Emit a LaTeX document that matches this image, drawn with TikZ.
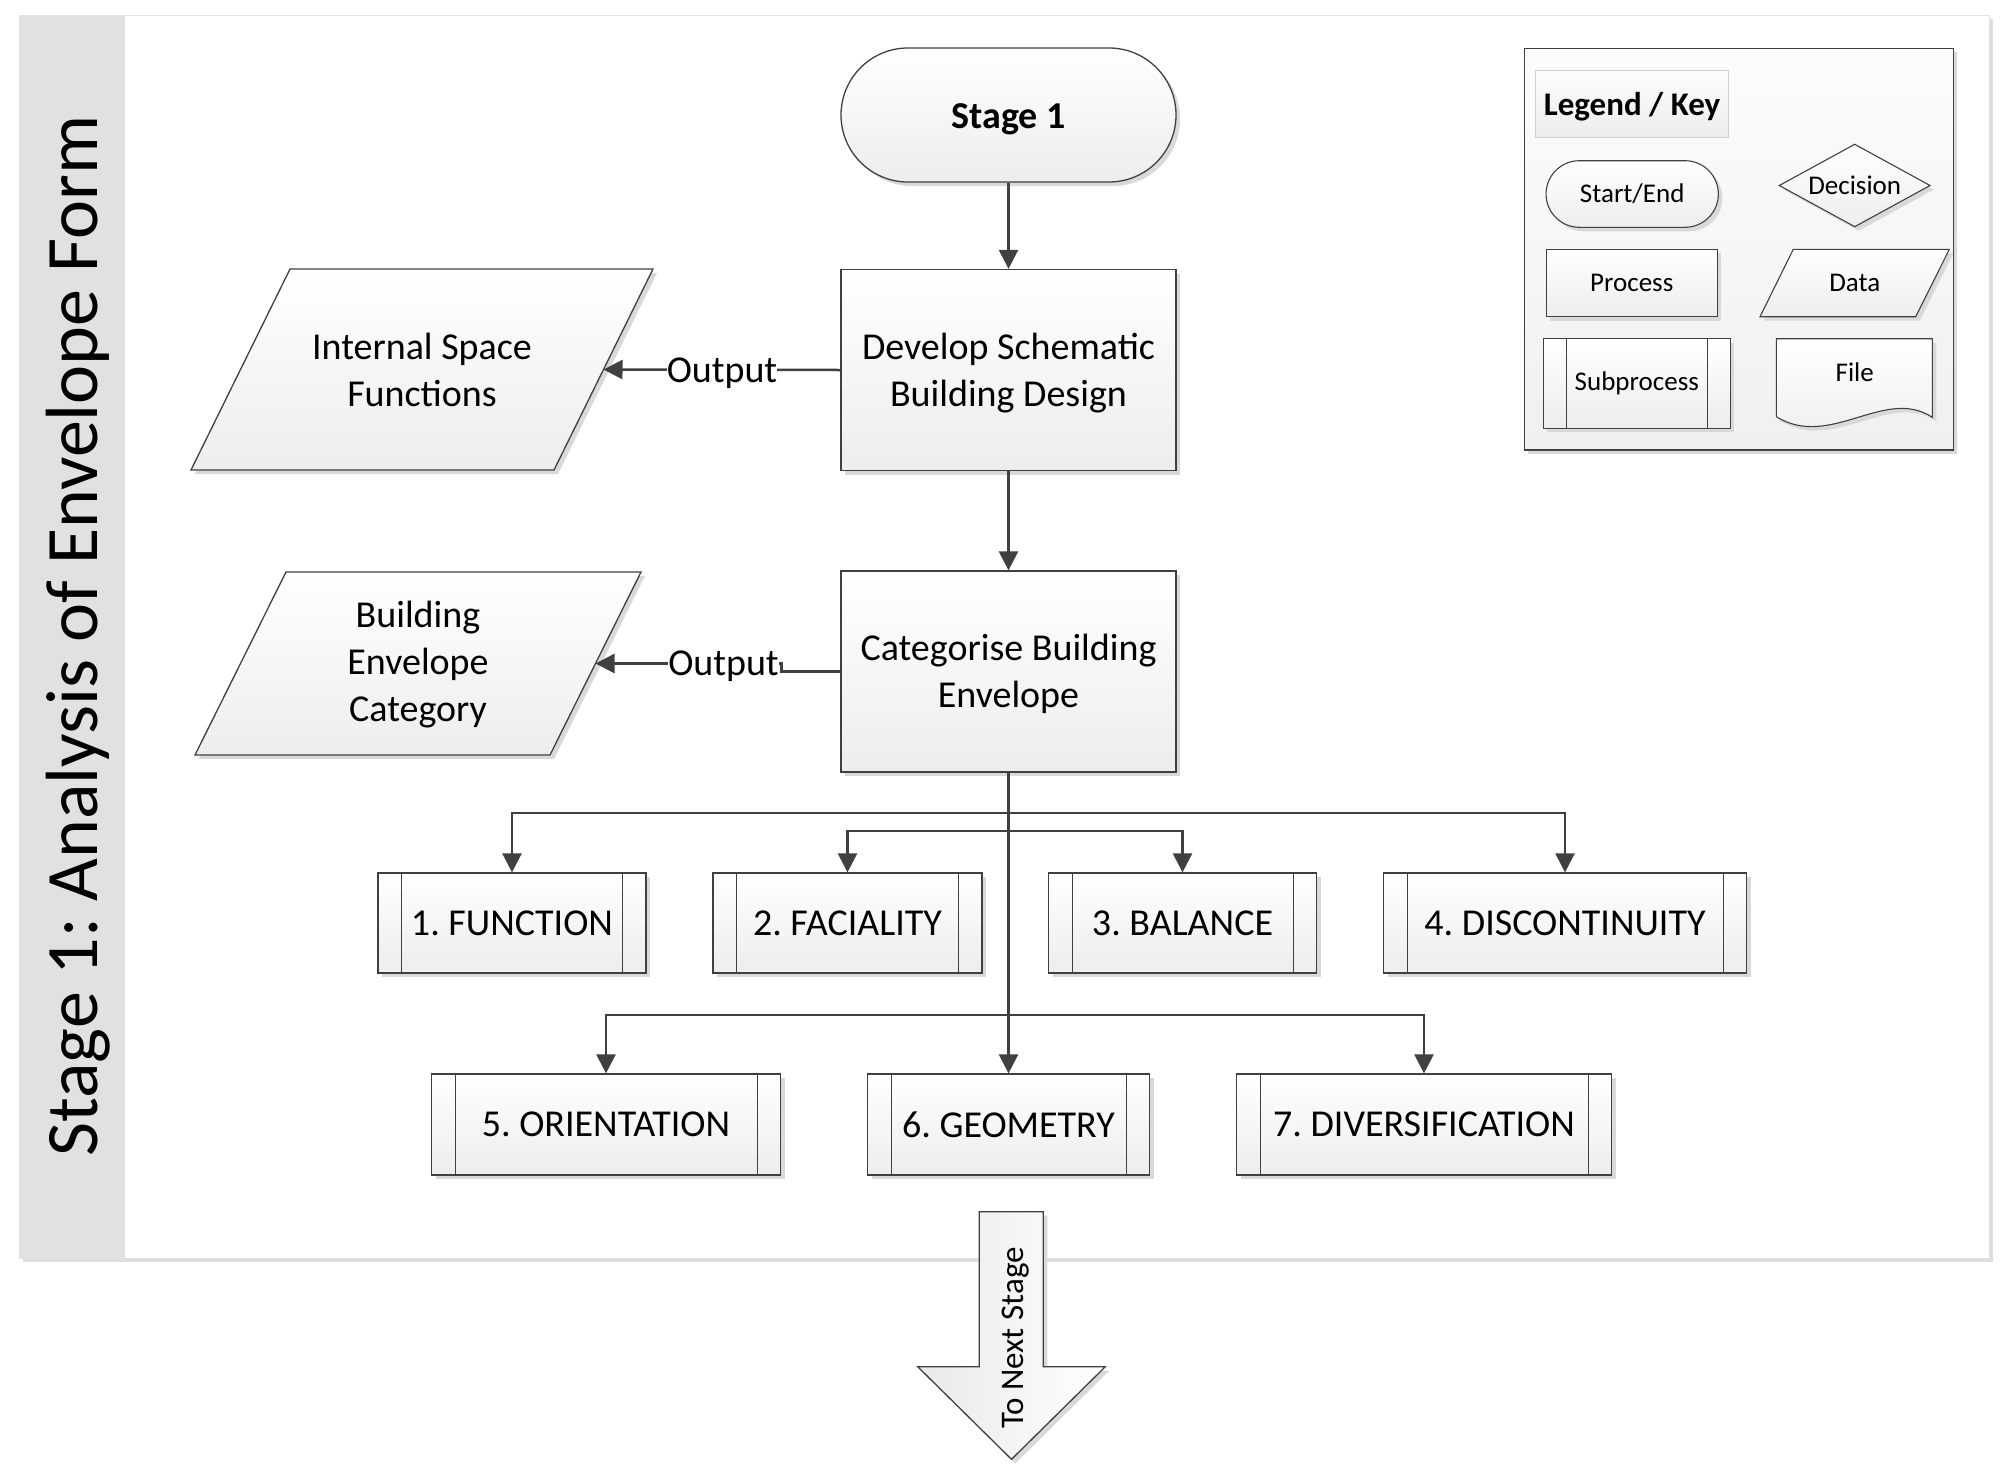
\documentclass[tikz,border=0pt]{standalone}
\usepackage{fontspec}
\setmainfont{Carlito}
\usetikzlibrary{arrows.meta,shadows}
\frenchspacing
\definecolor{linec}{HTML}{404040}
\definecolor{fillbot}{HTML}{EDEDED}
\definecolor{shadc}{HTML}{D9D9D9}
\definecolor{bandc}{HTML}{E1E1E1}
\definecolor{framec}{HTML}{E2E2E2}
\definecolor{frameshad}{HTML}{DDDDDD}
\definecolor{keyedge}{HTML}{CFCFCF}
\definecolor{keytop}{HTML}{FCFCFC}
\definecolor{keybot}{HTML}{F0F0F0}
\definecolor{nextl}{HTML}{E9E9E9}
\newcommand\fsmain{\fontsize{38}{47}\selectfont}
\newcommand\fskey{\fontsize{27}{33}\selectfont}
\newcommand\fskeyttl{\fontsize{33}{38}\selectfont\bfseries}
\newcommand\fsstitle{\fontsize{74}{88}\selectfont}
\newcommand\fsnext{\fontsize{33}{40}\selectfont}
\newcommand\lowr[2]{\raisebox{-#1}[\height][\depth]{#2}}
\begin{document}
\begin{tikzpicture}[x=1pt,y=-1pt,
  shad/.style={drop shadow={shadow xshift=4pt,shadow yshift=-4pt,fill=shadc,opacity=1}},
  shp/.style={draw=linec,line width=1.3pt,top color=white,bottom color=fillbot,shad},
  box/.style={shp,inner sep=0pt,align=center,font=\fsmain},
  sublines/.style={path picture={
    \draw[linec,line width=1pt] ([xshift=#1]path picture bounding box.north west) -- ([xshift=#1]path picture bounding box.south west);
    \draw[linec,line width=1pt] ([xshift=-#1]path picture bounding box.north east) -- ([xshift=-#1]path picture bounding box.south east);}},
  subp/.style={box,sublines=23.5pt},
  kshp/.style={draw=linec,line width=1.1pt,top color=white,bottom color=fillbot,shad},
  keyshape/.style={kshp,inner sep=0pt,align=center,font=\fskey},
  conn/.style={draw=linec,line width=2.5pt},
  arr/.style={conn,-{Triangle[length=19pt,width=19pt]}},
  lbl/.style={fill=white,inner sep=0pt,font=\fsmain,anchor=base}]
\useasboundingbox (0,0) rectangle (2007,1470);

% swimlane frame
\fill[frameshad] (23,19) rectangle (1993,1262);
\fill[white] (19,15) rectangle (1989,1258);
\fill[bandc] (19,15) rectangle (125,1258);
\draw[framec,line width=1pt] (19,15) rectangle (1989,1258);
\node[rotate=90,anchor=base,font=\fsstitle,inner sep=0pt] (title) at (97,636) {Stage 1: Analysis of Envelope Form};

% main flow
\node[box,rounded corners=67pt,minimum width=335pt,minimum height=134pt,font=\fsmain\bfseries] (s1) at (1008.5,115) {\lowr{4pt}{Stage 1}};
\node[box,minimum width=335pt,minimum height=201pt] (dev) at (1008.5,370) {\lowr{3pt}{Develop Schematic}\\\lowr{3pt}{Building Design}};
\node[box,minimum width=335pt,minimum height=201pt] (cat) at (1008.5,671.5) {\lowr{2pt}{Categorise Building}\\\lowr{2pt}{Envelope}};

% data shapes
\path[shp] (290,269) -- (653,269) -- (554,470) -- (191,470) -- cycle;
\coordinate (isfE) at (603.5,369.5);
\node[font=\fsmain,align=center] (isf) at (422,370) {Internal Space\\Functions};
\path[shp] (286,572) -- (641,572) -- (550,755) -- (195,755) -- cycle;
\coordinate (becE) at (595.5,663.5);
\node[font=\fsmain,align=center] (bec) at (418,664.5) {Building\\Envelope\\Category};

% subprocesses
\node[subp,minimum width=268pt,minimum height=100pt] (b1) at (512,923) {1. FUNCTION};
\node[subp,minimum width=269pt,minimum height=100pt] (b2) at (847.5,923) {2. FACIALITY};
\node[subp,minimum width=268pt,minimum height=100pt] (b3) at (1182.5,923) {3. BALANCE};
\node[subp,minimum width=363pt,minimum height=100pt] (b4) at (1565,923) {4. DISCONTINUITY};
\node[subp,minimum width=349pt,minimum height=101pt] (b5) at (606,1124.5) {5. ORIENTATION};
\node[subp,minimum width=282pt,minimum height=101pt] (b6) at (1008.5,1124.5) {6. GEOMETRY};
\node[subp,minimum width=375pt,minimum height=101pt] (b7) at (1424,1124.5) {7. DIVERSIFICATION};

% connectors
\draw[arr] (s1.south) -- (dev.north);
\draw[arr] (dev.south) -- (cat.north);
\draw[arr] (dev.west) -- (isfE);
\node[lbl] (o1) at (722,382) {Output};
\draw[arr] (cat.west) -- ++(-59,0) |- (becE);
\node[lbl] (o2) at (723.5,675.5) {Output};

\coordinate (j1) at (1008.5,813);
\coordinate (j2) at (1008.5,831);
\coordinate (j3) at (1008.5,1015);
\draw[arr] (cat.south) -- (b6.north);
\draw[arr] (j1) -| (b1.north);
\draw[arr] (j1) -| (b4.north);
\draw[arr] (j2) -| (b2.north);
\draw[arr] (j2) -| (b3.north);
\draw[arr] (j3) -| (b5.north);
\draw[arr] (j3) -| (b7.north);

% next stage arrow
\path[draw=linec,line width=1.3pt,left color=nextl,right color=white,shad]
  (979.3,1211.7) -- (1043.3,1211.7) -- (1043.3,1366.7) -- (1105.3,1366.7) -- (1011.5,1459.3) -- (917.7,1366.7) -- (979.3,1366.7) -- cycle;
\node[rotate=90,anchor=base,font=\fsnext,inner sep=0pt] (nxt) at (1023.5,1338) {To Next Stage};

% legend
\path[draw=linec,line width=1.3pt,top color=keytop,bottom color=keybot,shad] (1524.3,48.3) rectangle (1953.3,450);
\node[draw=keyedge,line width=1pt,top color=keytop,bottom color=fillbot,minimum width=193.4pt,minimum height=66.6pt,inner sep=0pt,font=\fskeyttl] (kt) at (1632,104) {\lowr{3pt}{Legend / Key}};
\node[keyshape,rounded corners=33.3pt,minimum width=172.3pt,minimum height=66.6pt] (kse) at (1632.2,194) {Start/End};
\node[keyshape,minimum width=171.3pt,minimum height=67.4pt] (kpr) at (1631.7,283) {Process};
\node[keyshape,sublines=23pt,minimum width=187pt,minimum height=89.6pt] (ksp) at (1636.8,383.5) {Subprocess};
\path[kshp] (1779.3,185.5) -- (1854.7,144.3) -- (1930,185.5) -- (1854.7,226.7) -- cycle;
\node[font=\fskey] (kde) at (1854.7,185.5) {Decision};
\path[kshp] (1793.3,249.3) -- (1949.3,249.3) -- (1915.7,316.7) -- (1760,316.7) -- cycle;
\node[font=\fskey] (kda) at (1854.7,283) {Data};
\path[kshp] (1776.3,338.7) -- (1932.3,338.7) -- (1932.3,417.3) .. controls (1885,386) and (1830,450) .. (1776.3,416.7) -- cycle;
\node[font=\fskey] (kfi) at (1854.7,372.7) {File};
\end{tikzpicture}
\end{document}
